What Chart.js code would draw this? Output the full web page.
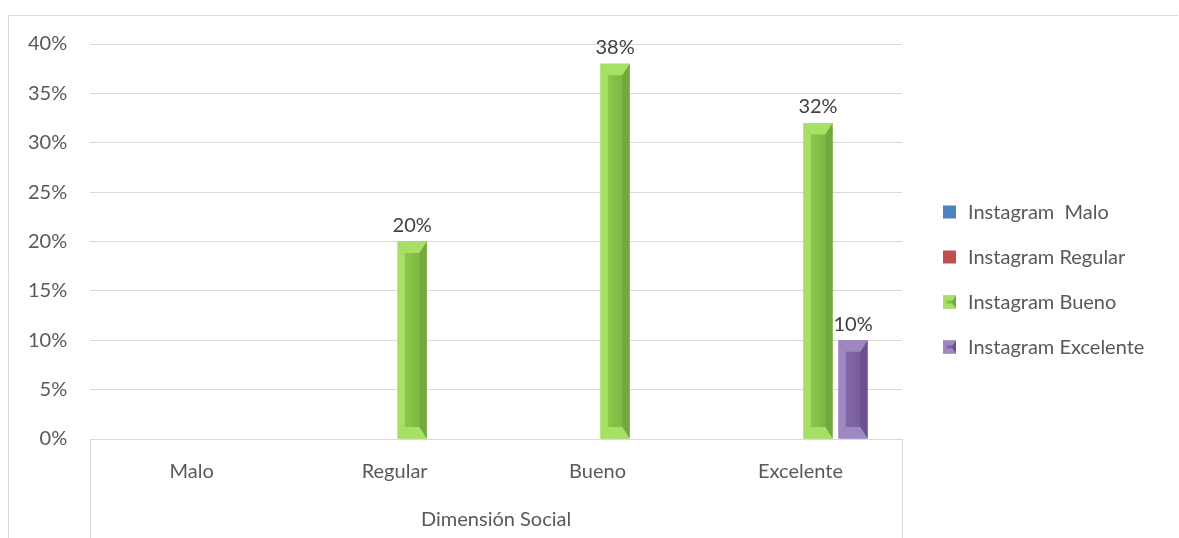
<!DOCTYPE html>
<html>
<head>
  <title>Dimensión Social</title>
  <script src="https://cdn.jsdelivr.net/npm/chart.js"></script>
  <style>
    html, body { margin: 0; padding: 0; background: #fff; }
    #wrap { width: 1179px; height: 538px; position: relative; }
  </style>
</head>
<body>
  <div id="wrap"><canvas id="chart"></canvas></div>

  <script>
    const categories = ['Malo', 'Regular', 'Bueno', 'Excelente'];
    const seriesNames = ['Instagram  Malo', 'Instagram Regular', 'Instagram Bueno', 'Instagram Excelente'];
    const instagramMalo = [null, null, null, null];
    const instagramRegular = [null, null, null, null];
    const instagramBueno = [null, 20, 38, 32];
    const instagramExcelente = [null, null, null, 10];
    const yTicks = [0, 5, 10, 15, 20, 25, 30, 35, 40];
    const axisTitle = 'Dimensión Social';

    const FONT = "Lato, 'Open Sans', sans-serif";
    const SIZE = 20;
    const TEXT = '#595959';

    // colours: [main, light, dark, gradient end]
    const palette = [
      ['#4f81bd', '#7aa3d6', '#3a6596', '#4573aa'],
      ['#c0504d', '#d87b78', '#963a38', '#aa4643'],
      ['#8bc84a', '#a6e064', '#72a83e', '#7cb843'],
      ['#8468ab', '#9f88c2', '#6a5190', '#775d9e']
    ];

    // bevelled bar, like the office "bevel" shape
    function bevel(ctx, x0, y0, x1, y1, col, s, t) {
      const poly = (pts, c) => {
        ctx.beginPath();
        ctx.moveTo(pts[0][0], pts[0][1]);
        pts.slice(1).forEach(p => ctx.lineTo(p[0], p[1]));
        ctx.closePath();
        ctx.fillStyle = c;
        ctx.fill();
      };
      const g = ctx.createLinearGradient(x0 + s, 0, x1 - s, 0);
      g.addColorStop(0, col[0]);
      g.addColorStop(1, col[3]);
      ctx.fillStyle = g;
      ctx.fillRect(x0, y0, x1 - x0, y1 - y0);
      poly([[x0, y0], [x0 + s, y0 + t], [x0 + s, y1 - t], [x0, y1]], col[1]);
      poly([[x1, y0], [x1 - s, y0 + t], [x1 - s, y1 - t], [x1, y1]], col[2]);
      poly([[x0, y0], [x1, y0], [x1 - s, y0 + t], [x0 + s, y0 + t]], col[1]);
      poly([[x0, y1], [x1, y1], [x1 - s, y1 - t], [x0 + s, y1 - t]], col[1]);
    }

    const sets = [instagramMalo, instagramRegular, instagramBueno, instagramExcelente];

    const bevelBars = {
      id: 'bevelBars',
      afterDatasetsDraw(chart) {
        const ctx = chart.ctx;
        ctx.save();
        chart.data.datasets.forEach((ds, di) => {
          const meta = chart.getDatasetMeta(di);
          meta.data.forEach((bar, i) => {
            const v = ds.data[i];
            if (v === null || v === undefined) return;
            const p = bar.getProps(['x', 'y', 'base', 'width'], true);
            const x0 = p.x - p.width / 2, x1 = p.x + p.width / 2;
            bevel(ctx, x0, p.y, x1, p.base, palette[di], p.width * 0.25, p.width * 0.4);
            ctx.fillStyle = '#404040';
            ctx.font = SIZE + 'px ' + FONT;
            ctx.textAlign = 'center';
            ctx.textBaseline = 'bottom';
            ctx.fillText(v + '%', p.x, p.y - 6);
          });
        });
        ctx.restore();
      }
    };

    const frame = {
      id: 'frame',
      beforeDraw(chart) {
        const ctx = chart.ctx;
        const a = chart.chartArea;
        ctx.save();
        ctx.strokeStyle = '#d9d9d9';
        ctx.lineWidth = 1;
        ctx.beginPath();
        ctx.moveTo(8.5, chart.height);
        ctx.lineTo(8.5, 15.5);
        ctx.lineTo(chart.width - 1, 15.5);
        ctx.moveTo(Math.round(a.left) + 0.5, a.bottom);
        ctx.lineTo(Math.round(a.left) + 0.5, chart.height);
        ctx.moveTo(Math.round(a.right) + 0.5, a.bottom);
        ctx.lineTo(Math.round(a.right) + 0.5, chart.height);
        ctx.stroke();
        ctx.restore();
      }
    };

    // legend to the right of the plot, one row per series
    const sideLegend = {
      id: 'sideLegend',
      afterDraw(chart) {
        const ctx = chart.ctx;
        const a = chart.chartArea;
        const x = a.right + 41;
        const step = 45;
        const y0 = 212;
        ctx.save();
        ctx.font = SIZE + 'px ' + FONT;
        ctx.textBaseline = 'middle';
        ctx.textAlign = 'left';
        chart.data.datasets.forEach((ds, i) => {
          const y = y0 + i * step;
          if (i < 2) {
            ctx.fillStyle = palette[i][0];
            ctx.fillRect(x, y - 6.5, 13, 13);
          } else {
            bevel(ctx, x, y - 6.5, x + 13, y + 6.5, palette[i], 3.5, 5);
          }
          ctx.fillStyle = TEXT;
          ctx.fillText(ds.label, x + 25, y + 1);
        });
        ctx.restore();
      }
    };

    const chart = new Chart(document.getElementById('chart'), {
      type: 'bar',
      data: {
        labels: categories,
        datasets: sets.map((d, i) => ({
          label: seriesNames[i],
          data: d,
          backgroundColor: 'rgba(0,0,0,0)',
          categoryPercentage: 0.69,
          barPercentage: 0.83
        }))
      },
      options: {
        responsive: true,
        maintainAspectRatio: false,
        animation: false,
        layout: { padding: { left: 5, top: 44, right: 277, bottom: 6 } },
        plugins: {
          tooltip: { enabled: false },
          legend: { display: false }
        },
        scales: {
          x: {
            grid: { display: false, drawTicks: false },
            border: { color: '#d9d9d9' },
            ticks: { color: TEXT, font: { family: FONT, size: SIZE }, padding: 21 },
            title: { display: true, text: axisTitle, color: TEXT, font: { family: FONT, size: SIZE }, padding: { top: 3, bottom: 0 } }
          },
          y: {
            min: yTicks[0],
            max: yTicks[yTicks.length - 1],
            afterBuildTicks: axis => { axis.ticks = yTicks.map(v => ({ value: v })); },
            grid: { color: '#d9d9d9', drawTicks: false },
            border: { display: false },
            ticks: { color: TEXT, font: { family: FONT, size: SIZE }, padding: 23, callback: v => v + '%' }
          }
        }
      },
      plugins: [frame, bevelBars, sideLegend]
    });
  </script>
</body>
</html>
